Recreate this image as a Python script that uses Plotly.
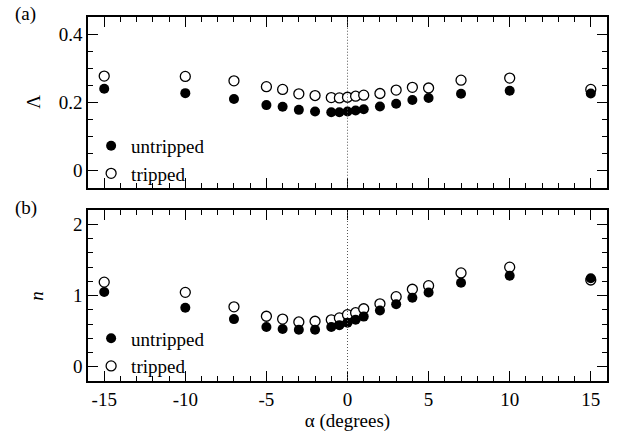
import plotly.graph_objects as go

alpha = [-15, -10, -7, -5, -4, -3, -2, -1, -0.5, 0, 0.5, 1, 2, 3, 4, 5, 7, 10, 15]

lambda_untripped = [0.240, 0.227, 0.210, 0.192, 0.187, 0.178, 0.173, 0.171, 0.171, 0.173,
                    0.176, 0.180, 0.188, 0.196, 0.207, 0.213, 0.225, 0.234, 0.226]
lambda_tripped = [0.277, 0.276, 0.263, 0.246, 0.238, 0.225, 0.220, 0.214, 0.213, 0.215,
                  0.218, 0.221, 0.226, 0.236, 0.244, 0.242, 0.265, 0.271, 0.238]

n_untripped = [1.05, 0.83, 0.67, 0.56, 0.53, 0.52, 0.52, 0.56, 0.585, 0.62,
               0.66, 0.705, 0.79, 0.88, 0.97, 1.045, 1.18, 1.28, 1.245]
n_tripped = [1.19, 1.046, 0.843, 0.71, 0.67, 0.63, 0.64, 0.66, 0.687, 0.733,
             0.76, 0.816, 0.885, 0.986, 1.09, 1.14, 1.32, 1.40, 1.22]

FONT = "Liberation Serif, Times New Roman, Times, serif"
TXT = dict(family=FONT, size=19, color="black")

fig = go.Figure()

open_marker = dict(symbol="circle", size=10, color="white", line=dict(color="black", width=1.3))
fill_marker = dict(symbol="circle", size=10, color="black", line=dict(color="black", width=0))

fig.add_trace(go.Scatter(x=alpha, y=lambda_tripped, mode="markers", name="tripped",
                         marker=open_marker, xaxis="x", yaxis="y", legend="legend", legendrank=2))
fig.add_trace(go.Scatter(x=alpha, y=lambda_untripped, mode="markers", name="untripped",
                         marker=fill_marker, xaxis="x", yaxis="y", legend="legend", legendrank=1))
fig.add_trace(go.Scatter(x=alpha, y=n_tripped, mode="markers", name="tripped",
                         marker=open_marker, xaxis="x2", yaxis="y2", legend="legend2", legendrank=2))
fig.add_trace(go.Scatter(x=alpha, y=n_untripped, mode="markers", name="untripped",
                         marker=fill_marker, xaxis="x2", yaxis="y2", legend="legend2", legendrank=1))

axis_common = dict(showline=True, linecolor="black", linewidth=1.5, mirror="allticks",
                   ticks="inside", ticklen=10, tickwidth=1.3, tickcolor="black",
                   showgrid=False, zeroline=False, tickfont=TXT)

fig.update_layout(
    width=623, height=439,
    margin=dict(l=88, r=16, t=17, b=55),
    paper_bgcolor="white", plot_bgcolor="white",
    showlegend=True,
    font=TXT,
    xaxis=dict(**axis_common, domain=[0, 1], range=[-16, 16], anchor="y",
               tickvals=[-15, -10, -5, 0, 5, 10, 15], showticklabels=False,
               minor=dict(ticks="inside", ticklen=5, tickwidth=1.1, tickcolor="black", dtick=1, tick0=0)),
    yaxis=dict(**axis_common, domain=[0.531, 1], range=[-0.05, 0.45], anchor="x",
               tickvals=[0, 0.2, 0.4], ticktext=["0", "0.2", "0.4"],
               minor=dict(ticks="inside", ticklen=5, tickwidth=1.1, tickcolor="black", dtick=0.05, tick0=0)),
    xaxis2=dict(**axis_common, domain=[0, 1], range=[-16, 16], anchor="y2",
                tickvals=[-15, -10, -5, 0, 5, 10, 15], ticktext=["-15", "-10", "-5", "0", "5", "10", "15"],
                minor=dict(ticks="inside", ticklen=5, tickwidth=1.1, tickcolor="black", dtick=1, tick0=0),
                title=dict(text="α (degrees)", font=TXT, standoff=4)),
    yaxis2=dict(**axis_common, domain=[0, 0.469], range=[-0.2, 2.2], anchor="x2",
                tickvals=[0, 1, 2],
                minor=dict(ticks="inside", ticklen=5, tickwidth=1.1, tickcolor="black", dtick=0.2, tick0=0)),
    legend=dict(x=0.006, y=0.517, xanchor="left", yanchor="bottom", bgcolor="rgba(0,0,0,0)",
                font=TXT, tracegroupgap=0, itemwidth=30),
    legend2=dict(x=0.006, y=-0.012, xanchor="left", yanchor="bottom", bgcolor="rgba(0,0,0,0)",
                 font=TXT, tracegroupgap=0, itemwidth=30),
    shapes=[
        dict(type="line", xref="x", yref="y domain", x0=0, x1=0, y0=0, y1=1,
             line=dict(color="#555555", width=1, dash="1px,2px")),
        dict(type="line", xref="x2", yref="y2 domain", x0=0, x1=0, y0=0, y1=1,
             line=dict(color="#555555", width=1, dash="1px,2px")),
    ],
    annotations=[
        dict(text="(a)", xref="paper", yref="paper", x=-0.145, y=1.045, xanchor="left", yanchor="top",
             showarrow=False, font=TXT),
        dict(text="(b)", xref="paper", yref="paper", x=-0.145, y=0.51, xanchor="left", yanchor="top",
             showarrow=False, font=TXT),
        dict(text="Λ", xref="paper", yref="y domain", x=-0.105, y=0.5, xanchor="center", yanchor="middle",
             textangle=-90, showarrow=False, font=TXT),
        dict(text="<i>n</i>", xref="paper", yref="y2 domain", x=-0.098, y=0.5, xanchor="center", yanchor="middle",
             textangle=-90, showarrow=False, font=TXT),
    ],
)

fig.write_html("out.html")
